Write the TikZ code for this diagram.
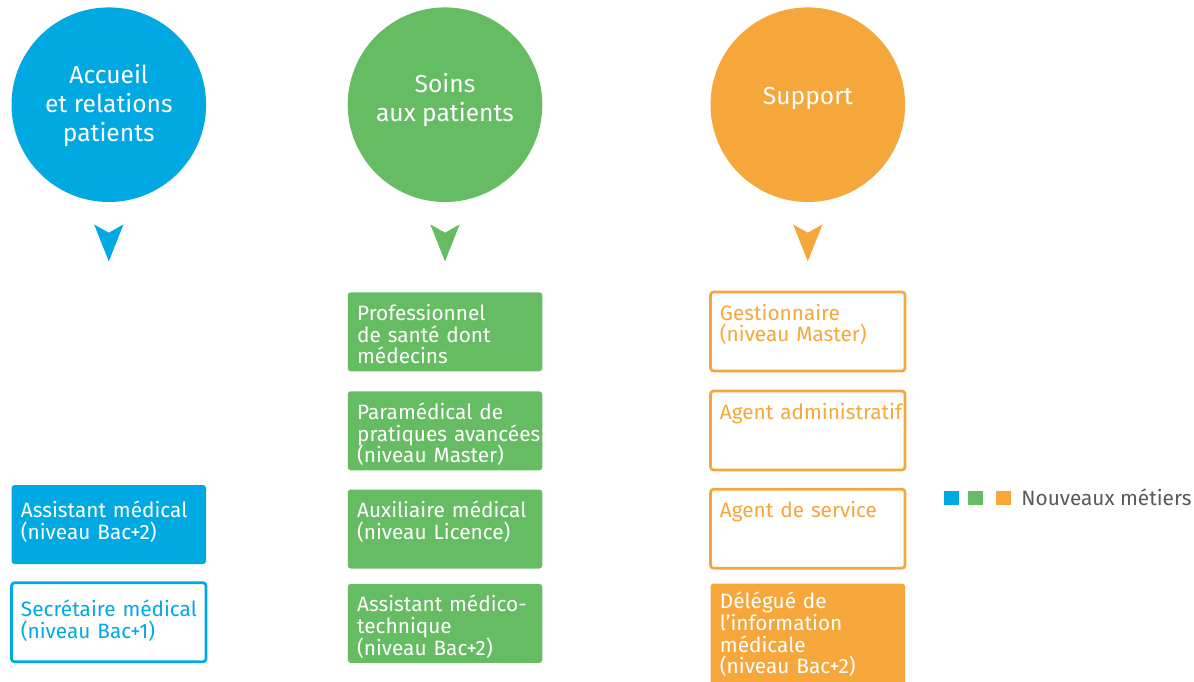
\documentclass[tikz,border=0pt]{standalone}
\usepackage{fontspec}
\setmainfont{Fira Sans}
\usetikzlibrary{positioning}

\definecolor{accblue}{HTML}{00A9E2}
\definecolor{soingreen}{HTML}{66BC62}
\definecolor{supporange}{HTML}{F5A73B}
\definecolor{leggray}{HTML}{58595B}

\tikzset{
  pole/.style    ={circle, inner sep=0pt, minimum size=97.3pt, align=center,
                   text=white, font=\fontsize{12.3pt}{14.65pt}\selectfont,
                   text depth=4pt},
  job/.style     ={rectangle, rounded corners=1.5pt, anchor=north, outer sep=0pt,
                   inner xsep=4.7pt, inner ysep=0pt, text width=87.85pt,
                   text height=14pt, text depth=25.5pt,
                   font=\fontsize{10.4pt}{10.85pt}\selectfont,
                   execute at begin node={\parindent=0pt\lineskiplimit=-5pt
                     \hyphenpenalty=10000\exhyphenpenalty=10000\relax}},
  jobfill/.style ={job, fill=#1, text=white},
  jobline/.style ={job, draw=#1, line width=1.35pt, text=#1},
  legsq/.style   ={rectangle, inner sep=0pt, minimum width=7.5pt,
                   minimum height=7pt},
}
% filled chevron under each pole circle
\newcommand\polearrow[2]{%
  \fill[#1] ([shift={(-14.7,22)}]#2.south) -- ([shift={(0,30.3)}]#2.south)
    -- ([shift={(14.7,22)}]#2.south) -- ([shift={(0,59)}]#2.south) -- cycle;}

\begin{document}
\begin{tikzpicture}[x=0.5pt, y=-0.5pt]
  \useasboundingbox (0,0) rectangle (1194,681);

  \node[pole, fill=accblue, text height=41pt]    (acc)  at (108.8,104.7) {Accueil\\et relations\\patients};
  \node[pole, fill=soingreen, text height=21pt]  (soin) at (445,104.7)   {Soins\\aux patients};
  \node[pole, fill=supporange, text height=4pt]  (supp) at (807.8,104.7) {Support};

  \polearrow{accblue}{acc}
  \polearrow{soingreen}{soin}
  \polearrow{supporange}{supp}

  \node[jobfill=accblue, text height=16.2pt, text depth=23.3pt] (asmed) at (108.8,485)
    {Assistant~médical\\(niveau Bac+2)};
  \node[jobline=accblue, below=9.4pt of asmed, text height=16.8pt, text depth=22.7pt] (secmed)
    {Secrétaire~médical\\(niveau Bac+1)};

  \node[jobfill=soingreen] (pro) at (445,292.3) {Professionnel\\de santé dont\\médecins};
  \node[jobfill=soingreen, below=10pt of pro]   (para) {Paramédical de\\pratiques~avancées\\(niveau Master)};
  \node[jobfill=soingreen, below=9.6pt of para] (aux)  {Auxiliaire~médical\\(niveau Licence)};
  \node[jobfill=soingreen, below=7.7pt of aux]  (amt)  {Assistant médico-\\technique\\(niveau Bac+2)};

  \node[jobline=supporange] (gest) at (807.8,292) {Gestionnaire\\(niveau Master)};
  \node[jobline=supporange, below=10pt of gest]  (adm)  {Agent~administratif};
  \node[jobline=supporange, below=9.6pt of adm]  (serv) {Agent de service};
  \node[jobfill=supporange, below=7.7pt of serv, text height=12.6pt, text depth=45pt] (dim)
    {Délégué de\\l’information\\médicale\\(niveau Bac+2)};

  \node[legsq, fill=accblue] (lgb) at (951.8,497.7) {};
  \node[legsq, fill=soingreen, right=4pt of lgb]  (lgg) {};
  \node[legsq, fill=supporange, right=6.2pt of lgg] (lgo) {};
  \node[anchor=base west, inner sep=0pt, text=leggray,
        font=\fontsize{10.4pt}{10.85pt}\selectfont] (legt) at (1021,505) {Nouveaux métiers};
\end{tikzpicture}
\end{document}
